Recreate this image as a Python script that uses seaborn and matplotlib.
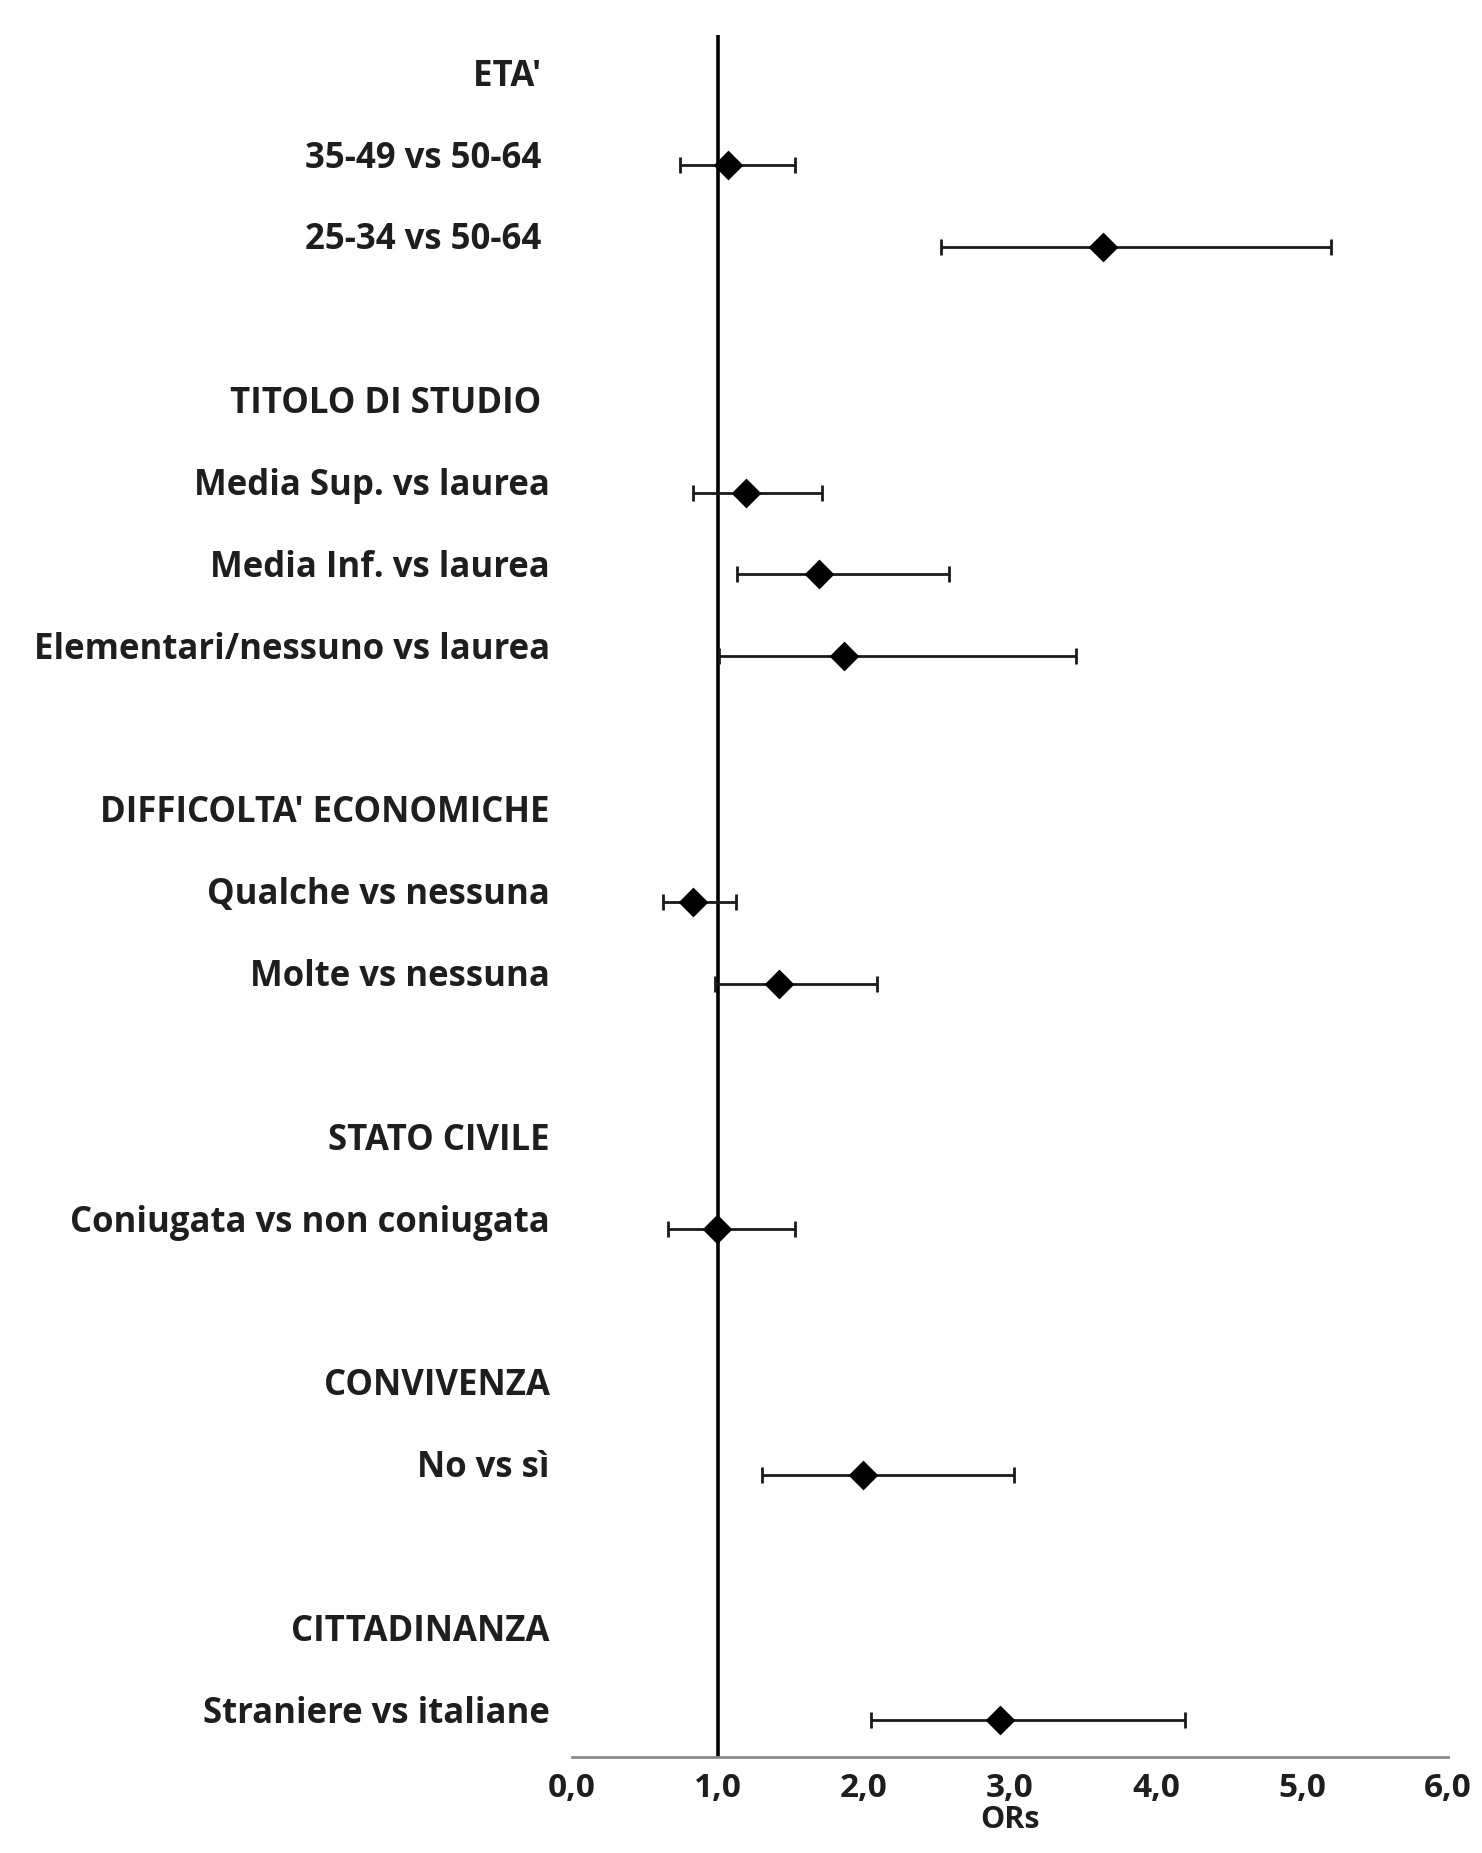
import numpy as np
import pandas as pd
import seaborn as sns
import matplotlib.pyplot as plt
from matplotlib.transforms import ScaledTranslation

# righe del grafico (intestazioni di gruppo e confronti), dall'alto verso il basso
labels = ["ETA' ", "35-49 vs 50-64 ", "25-34 vs 50-64 ", "",
          "TITOLO DI STUDIO ", "Media Sup. vs laurea", "Media Inf. vs laurea",
          "Elementari/nessuno vs laurea", "",
          "DIFFICOLTA' ECONOMICHE", "Qualche vs nessuna", "Molte vs nessuna", "",
          "STATO CIVILE", "Coniugata vs non coniugata", "",
          "CONVIVENZA", "No vs sì", "",
          "CITTADINANZA", "Straniere vs italiane"]
nan = np.nan
or_vals = [nan, 1.07, 3.64, nan, nan, 1.19, 1.69, 1.86, nan, nan, 0.83, 1.42, nan,
           nan, 0.99, nan, nan, 1.99, nan, nan, 2.93]
ci_low = [nan, 0.74, 2.53, nan, nan, 0.83, 1.13, 1.01, nan, nan, 0.62, 0.98, nan,
          nan, 0.66, nan, nan, 1.30, nan, nan, 2.05]
ci_high = [nan, 1.53, 5.20, nan, nan, 1.71, 2.58, 3.45, nan, nan, 1.12, 2.09, nan,
           nan, 1.53, nan, nan, 3.03, nan, nan, 4.20]
x_ticks = [0, 1, 2, 3, 4, 5, 6]
x_ticklabels = ["0,0", "1,0", "2,0", "3,0", "4,0", "5,0", "6,0"]

df = pd.DataFrame({"label": labels, "OR": or_vals, "low": ci_low, "high": ci_high})
df["row"] = np.arange(len(df))
pts = df.dropna()

sns.set_theme(style="white")
plt.rcParams['font.family'] = ['Open Sans', 'DejaVu Sans']

fig = plt.figure(figsize=(14.82, 18.53), dpi=100)
ax = fig.add_axes([572 / 1482, 96 / 1853, 876 / 1482, 1722 / 1853])

# linea di riferimento OR = 1
ax.axvline(1.0, color="black", lw=2.6, zorder=1)

ax.errorbar(pts["OR"], pts["row"],
            xerr=[pts["OR"] - pts["low"], pts["high"] - pts["OR"]],
            fmt="none", ecolor="#1a1a1a", elinewidth=2.0, capsize=6, capthick=2.0,
            zorder=2)
sns.scatterplot(data=pts, x="OR", y="row", marker="D", s=230, color="black",
                edgecolor="black", linewidth=0, ax=ax, zorder=3)

ax.set_xlim(0, 6)
ax.set_ylim(20.45, -0.59)
ax.set_xticks(x_ticks)
ax.set_xticklabels(x_ticklabels, fontsize=24, fontweight="bold", color="#1e1e1e")
ax.set_yticks(df["row"])
ax.set_yticklabels(df["label"], fontsize=25, fontweight="bold", color="#1e1e1e")
ax.set_xlabel("ORs", fontsize=22, fontweight="bold", color="#1e1e1e", labelpad=0)
ax.set_ylabel("")

for side in ["top", "right", "left"]:
    ax.spines[side].set_visible(False)
ax.spines["bottom"].set_color("#8a8a8a")
ax.spines["bottom"].set_linewidth(2)
ax.tick_params(axis="x", direction="out", length=8, width=2, color="#8a8a8a", pad=3)
ax.tick_params(axis="y", length=0, pad=16)

# etichette leggermente sopra ai punti
offset = ScaledTranslation(0, 0.11, fig.dpi_scale_trans)
for lbl in ax.get_yticklabels():
    lbl.set_transform(lbl.get_transform() + offset)

fig.savefig("out.png", dpi=100, facecolor="white")
